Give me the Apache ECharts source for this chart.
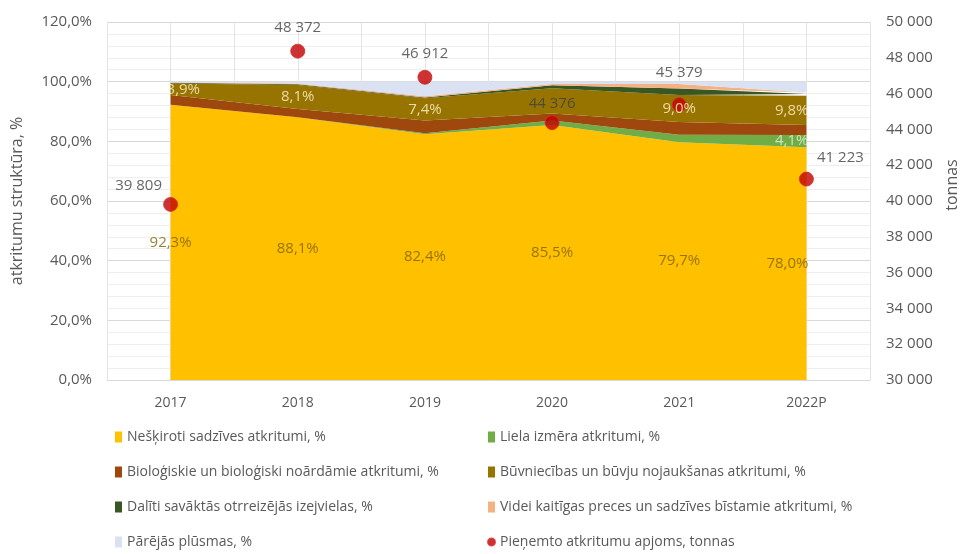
<!DOCTYPE html>
<html>
<head>
<meta charset="utf-8">
<script src="https://cdn.jsdelivr.net/npm/echarts@6/dist/echarts.min.js"></script>
<style>
  html, body { margin: 0; background: #fff; }
  #chart { width: 965px; height: 554px; }
</style>
</head>
<body>
<div id="chart"></div>
<script>
// categories
const years = ["2017", "2018", "2019", "2020", "2021", "2022P"];

// waste structure, % (stacked from bottom to top)
const neskiroti = [92.3, 88.1, 82.4, 85.5, 79.7, 78.0];
const lielaIzmera = [0, 0, 0.3, 1.5, 2.5, 4.1];
const biologiskie = [3.2, 2.7, 4.3, 2.3, 4.3, 3.4];
const buvniecibas = [3.9, 8.1, 7.4, 8.5, 9.0, 9.8];
const daliti = [0.2, 0.2, 0.3, 1.0, 2.2, 0.6];
const videiKaitigas = [0.2, 0.3, 0.4, 0.4, 1.5, 0.5];
const parejas = [0.2, 0.6, 4.9, 0.8, 0.8, 3.6];

// accepted waste, tonnes
const apjoms = [39809, 48372, 46912, 44376, 45379, 41223];

// which band labels are shown
const showBuvLabel = [true, true, true, false, true, true];
const showLielaLabel = [false, false, false, false, false, true];

const FONT = "Open Sans";
const TXT = "#595959";

const pct = (v) => v.toFixed(1).replace(".", ",") + "%";
const thousands = (v) => String(v).replace(/\B(?=(\d{3})+(?!\d))/g, " ");

const names = {
  nesk: "Nešķiroti sadzīves atkritumi, %",
  liela: "Liela izmēra atkritumi, %",
  bio: "Bioloģiskie un bioloģiski noārdāmie atkritumi, %",
  buv: "Būvniecības un būvju nojaukšanas atkritumi, %",
  dal: "Dalīti savāktās otrreizējās izejvielas, %",
  videi: "Videi kaitīgas preces un sadzīves bīstamie atkritumi, %",
  par: "Pārējās plūsmas, %",
  apj: "Pieņemto atkritumu apjoms, tonnas",
};

const areaSeries = (name, data, color) => ({
  name,
  type: "line",
  stack: "total",
  data,
  symbol: "none",
  lineStyle: { width: 0 },
  areaStyle: { color, opacity: 1 },
  itemStyle: { color },
  emphasis: { disabled: true },
  z: 2,
});

// label in the middle of a band: base + band/2
// first label of the top band sits just right of the area start, last one ends at it
const bandLabels = (base, band, show, color, firstLeft) => ({
  type: "scatter",
  symbolSize: 0,
  silent: true,
  z: 6,
  data: band.map((v, i) => {
    let align = "center";
    let offset = [0, 0];
    if (i === band.length - 1) { align = "right"; offset = [2, 0]; }
    if (i === 0 && firstLeft) { align = "left"; offset = [-4, 0]; }
    return {
      value: [years[i], base[i] + v / 2],
      raw: v,
      label: { show: show[i], align, offset },
    };
  }),
  label: {
    position: "inside",
    color,
    fontFamily: FONT,
    fontSize: 15,
    formatter: (p) => pct(p.data.raw),
  },
});

const zeros = years.map(() => 0);
const baseBuv = years.map((_, i) => neskiroti[i] + lielaIzmera[i] + biologiskie[i]);

// label offsets for the tonnage points
const apjOffsets = [[-32, 0], [0, -4], [0, -5], [0, 0], [0, -13], [34, -2]];

const legendBase = {
  orient: "vertical",
  top: 430,
  height: 124,
  padding: 0,
  itemGap: 21,
  itemWidth: 7,
  itemHeight: 11,
  icon: "rect",
  textStyle: { color: TXT, fontSize: 14, fontFamily: FONT },
};

const chart = echarts.init(document.getElementById("chart"));

chart.setOption({
  animation: false,
  textStyle: { fontFamily: FONT },
  grid: { left: 107, right: 95, top: 22, bottom: 174, outerBoundsMode: "none" },
  xAxis: [
    {
      type: "category",
      data: years,
      boundaryGap: true,
      axisLine: { lineStyle: { color: "#d9d9d9" } },
      axisTick: { show: false },
      axisLabel: { color: TXT, fontSize: 14, margin: 16, fontFamily: FONT },
      splitLine: { show: false },
    },
    {
      type: "value",
      min: 0,
      max: 12,
      interval: 1,
      axisLine: { show: false },
      axisTick: { show: false },
      axisLabel: { show: false },
      splitLine: { show: true, lineStyle: { color: "#e4e4e4", width: 1 } },
    },
  ],
  yAxis: [
    {
      type: "value",
      min: 0,
      max: 120,
      interval: 20,
      name: "atkritumu struktūra, %",
      nameLocation: "middle",
      nameGap: 82,
      nameTextStyle: { color: TXT, fontSize: 16, fontFamily: FONT },
      axisLine: { show: false },
      axisTick: { show: false },
      axisLabel: { color: TXT, fontSize: 15, margin: 15, formatter: (v) => pct(v), fontFamily: FONT },
      splitLine: { lineStyle: { color: "#d9d9d9" } },
      minorTick: { show: false, splitNumber: 5 },
      minorSplitLine: { show: true, lineStyle: { color: "#eeeeee" } },
    },
    {
      type: "value",
      min: 30000,
      max: 50000,
      interval: 2000,
      position: "right",
      name: "tonnas",
      nameLocation: "middle",
      nameRotate: 90,
      nameGap: 74,
      nameTextStyle: { color: TXT, fontSize: 16, fontFamily: FONT, padding: [0, 0, 0, 32] },
      axisLine: { show: false },
      axisTick: { show: false },
      axisLabel: { color: TXT, fontSize: 15, margin: 16, formatter: (v) => thousands(v), fontFamily: FONT },
      splitLine: { show: false },
    },
  ],
  legend: [
    Object.assign({}, legendBase, {
      left: 115,
      data: [names.nesk, names.bio, names.dal, names.par],
    }),
    Object.assign({}, legendBase, {
      left: 487,
      data: [names.liela, names.buv, names.videi, { name: names.apj, icon: "circle" }],
    }),
  ],
  series: [
    areaSeries(names.nesk, neskiroti, "#ffc000"),
    areaSeries(names.liela, lielaIzmera, "#70ad47"),
    areaSeries(names.bio, biologiskie, "#9e480e"),
    areaSeries(names.buv, buvniecibas, "#977400"),
    areaSeries(names.dal, daliti, "#385723"),
    areaSeries(names.videi, videiKaitigas, "#f4b183"),
    areaSeries(names.par, parejas, "#d9e1f2"),
    {
      name: names.apj,
      type: "scatter",
      yAxisIndex: 1,
      data: apjoms.map((v, i) => ({
        value: v,
        label: { offset: apjOffsets[i] },
      })),
      symbolSize: 14,
      itemStyle: { color: "#c00000", borderColor: "#d42a2a", borderWidth: 1 },
      z: 5,
      label: {
        show: true,
        position: "top",
        distance: 4,
        color: "#404040",
        fontSize: 15,
        fontFamily: FONT,
        formatter: (p) => thousands(p.value),
      },
    },
    bandLabels(zeros, neskiroti, years.map(() => true), "#7f6000", false),
    bandLabels(baseBuv, buvniecibas, showBuvLabel, "#fff2cc", true),
    bandLabels(neskiroti, lielaIzmera, showLielaLabel, "#e2f0d9", false),
  ],
});
</script>
</body>
</html>
